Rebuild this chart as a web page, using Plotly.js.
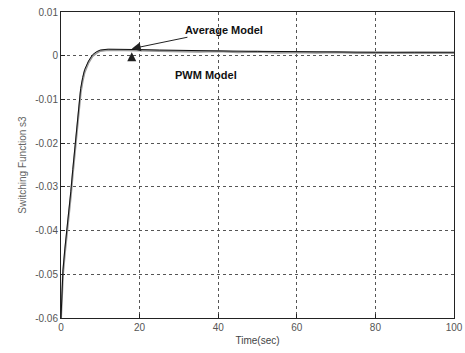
<!DOCTYPE html>
<html><head><meta charset="utf-8">
<script src="https://cdn.plot.ly/plotly-3.0.1.min.js"></script>
<style>body{margin:0;background:#fff}#c{width:465px;height:353px}</style>
</head><body><div id="c"></div>
<script>
var timeAvg = [0,0.2,0.5,1,1.5,2,2.5,3,3.5,4,4.5,5,5.5,6,7,8,9,10,12,15,20,25,30,40,50,60,70,80,90,100];
var avgModel = [-0.06,-0.055,-0.049,-0.044,-0.040,-0.035,-0.031,-0.026,-0.021,-0.016,-0.011,-0.0075,-0.005,-0.0032,-0.0012,0.0002,0.0009,0.0013,0.0015,0.0015,0.0014,0.0013,0.0012,0.0011,0.0010,0.0009,0.0009,0.0008,0.0008,0.0008];
var timePwm = [0,0.2,0.5,1,1.5,2,2.5,3,3.5,4,4.5,5,5.5,6,7,8,9,10,12,15,20,25,30,35,40,45,50,55,60,65,70,75,80,85,90,95,100];
var pwmModel = [-0.06,-0.056,-0.050,-0.045,-0.041,-0.036,-0.032,-0.027,-0.022,-0.017,-0.012,-0.0085,-0.0058,-0.0038,-0.0016,-0.0001,0.0006,0.0011,0.0013,0.0013,0.0012,0.0011,0.0010,0.0009,0.0010,0.0008,0.0009,0.0007,0.0008,0.0007,0.0008,0.0006,0.0007,0.0006,0.0007,0.0006,0.0006];
var xTicks = [0,20,40,60,80,100];
var yTicks = [0.01,0,-0.01,-0.02,-0.03,-0.04,-0.05,-0.06];
var yTickText = ['0.01','0','-0.01','-0.02','-0.03','-0.04','-0.05','-0.06'];

var traces = [
  {x: timePwm, y: pwmModel, mode:'lines', line:{color:'#9a9a9a', width:2}, name:'PWM Model'},
  {x: timeAvg, y: avgModel, mode:'lines', line:{color:'#111', width:1}, name:'Average Model'}
];
var axisCommon = {showline:true, mirror:true, linecolor:'#222', linewidth:1, ticks:'inside', ticklen:4, tickcolor:'#222',
  showgrid:true, gridcolor:'#555', griddash:'3px,3px', gridwidth:1, zeroline:false,
  tickfont:{family:'Arial, Liberation Sans', size:10, color:'#555'}};
var layout = {
  width:465, height:353, showlegend:false,
  margin:{l:61, r:11, t:12, b:35},
  paper_bgcolor:'#fff', plot_bgcolor:'#fff',
  xaxis: Object.assign({}, axisCommon, {range:[0,100], tickvals:xTicks, ticktext:xTicks.map(String),
    title:{text:'Time(sec)', font:{family:'Arial, Liberation Sans', size:10, color:'#444'}, standoff:4}}),
  yaxis: Object.assign({}, axisCommon, {range:[-0.06,0.01], tickvals:yTicks, ticktext:yTickText,
    title:{text:'Switching Function s3', font:{family:'Arial, Liberation Sans', size:10, color:'#666'}, standoff:6}}),
  annotations:[
    {x:18, y:0.0016, xref:'x', yref:'y', text:'<b>Average Model</b>', showarrow:true, arrowhead:2, arrowsize:1.8, arrowwidth:1, arrowcolor:'#222',
     ax:92, ay:-19, font:{family:'Arial, Liberation Sans', size:11, color:'#111'}},
    {x:18, y:0.0008, xref:'x', yref:'y', text:'', showarrow:true, arrowhead:2, arrowsize:1.8, arrowwidth:1, arrowcolor:'#222',
     ax:0, ay:10},
    {x:37, y:-0.0045, xref:'x', yref:'y', text:'<b>PWM Model</b>', showarrow:false, xanchor:'center',
     font:{family:'Arial, Liberation Sans', size:11, color:'#111'}}
  ]
};
Plotly.newPlot('c', traces, layout, {displayModeBar:false, staticPlot:true});
</script></body></html>
